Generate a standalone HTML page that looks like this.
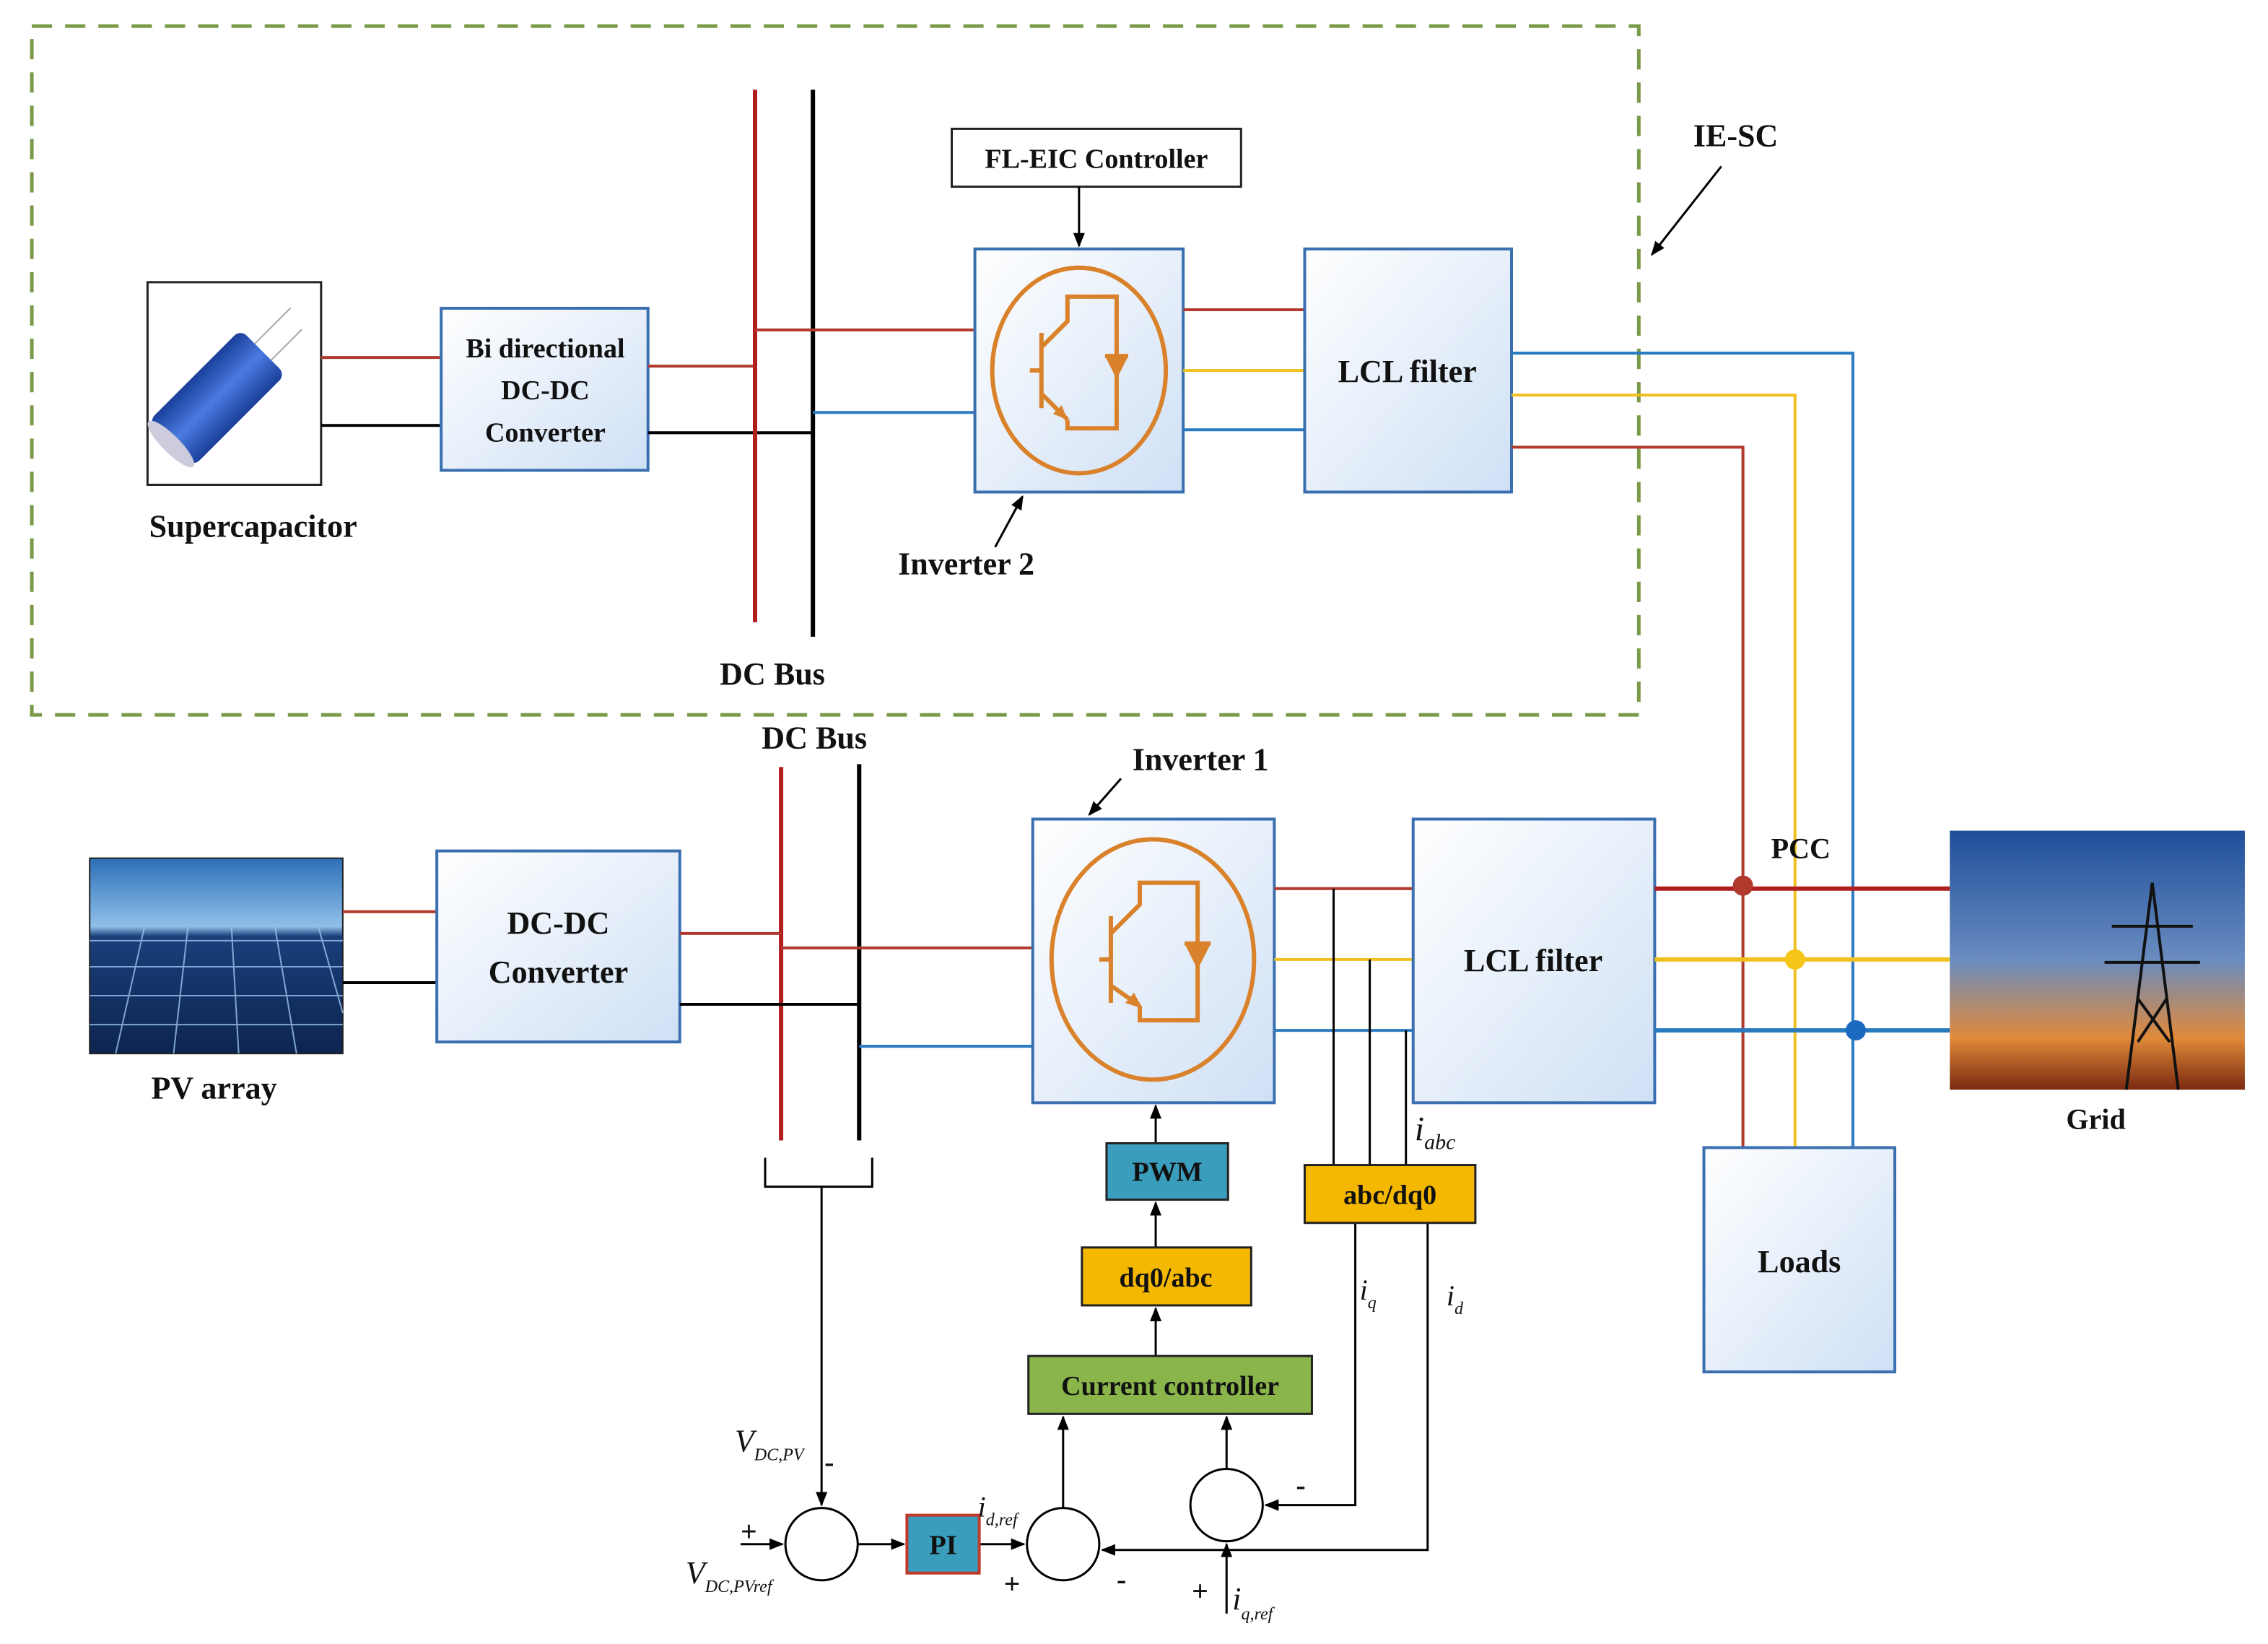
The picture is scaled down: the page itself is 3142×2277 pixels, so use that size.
<!DOCTYPE html>
<html><head><meta charset="utf-8"><style>
html,body{margin:0;padding:0;background:#fff}
svg{display:block}
text{font-family:"Liberation Serif",serif;font-weight:bold;fill:#111}
.it{font-style:italic;font-weight:normal}
</style></head><body>
<svg width="3142" height="2277" viewBox="0 0 1568 1136" preserveAspectRatio="none" xmlns="http://www.w3.org/2000/svg">
<defs>
<linearGradient id="bx" x1="0" y1="0" x2="1" y2="1"><stop offset="0" stop-color="#ffffff"/><stop offset="1" stop-color="#cfe0f5"/></linearGradient>
<linearGradient id="sky" x1="0" y1="0" x2="0" y2="1"><stop offset="0" stop-color="#1f4f9a"/><stop offset="0.5" stop-color="#6a8cc0"/><stop offset="0.8" stop-color="#e08a3a"/><stop offset="1" stop-color="#7a2a10"/></linearGradient>
<linearGradient id="pv" x1="0" y1="0" x2="0" y2="1"><stop offset="0" stop-color="#2d6fb8"/><stop offset="0.35" stop-color="#8fc0e8"/><stop offset="0.4" stop-color="#1a3f7a"/><stop offset="1" stop-color="#0d2450"/></linearGradient>
<linearGradient id="cap" x1="0" y1="0" x2="1" y2="0"><stop offset="0" stop-color="#1a3f9a"/><stop offset="0.5" stop-color="#4a7be0"/><stop offset="1" stop-color="#1a3f9a"/></linearGradient>
<marker id="ar" markerWidth="10" markerHeight="10" refX="9" refY="5" orient="auto" markerUnits="userSpaceOnUse"><path d="M0,1 L10,5 L0,9 z" fill="#000"/></marker>
</defs>
<rect x="22" y="18" width="1111" height="476" fill="none" stroke="#7a9a4a" stroke-width="2.5" stroke-dasharray="14,9"/>
<text x="1200" y="101" font-size="22" text-anchor="middle">IE-SC</text>
<line x1="1190" y1="115" x2="1142" y2="176" stroke="#000" stroke-width="1.5" marker-end="url(#ar)"/>

<rect x="102" y="195" width="120" height="140" fill="#fff" stroke="#222" stroke-width="1.5"/>
<g transform="rotate(45 150 275)"><rect x="128" y="230" width="44" height="90" rx="6" fill="url(#cap)"/><ellipse cx="150" cy="320" rx="22" ry="6" fill="#ccd"/><line x1="142" y1="230" x2="142" y2="195" stroke="#aaa"/><line x1="158" y1="230" x2="158" y2="200" stroke="#aaa"/></g>
<text x="175" y="371" font-size="22" text-anchor="middle">Supercapacitor</text>
<line x1="222" y1="247" x2="305" y2="247" stroke="#b03a2e" stroke-width="2"/>
<line x1="222" y1="294" x2="305" y2="294" stroke="#000" stroke-width="2"/>

<rect x="305" y="213" width="143" height="112" fill="url(#bx)" stroke="#3a6fb0" stroke-width="2"/>
<text x="377" y="247" font-size="19" text-anchor="middle">Bi directional</text>
<text x="377" y="276" font-size="19" text-anchor="middle">DC-DC</text>
<text x="377" y="305" font-size="19" text-anchor="middle">Converter</text>
<line x1="448" y1="253" x2="522" y2="253" stroke="#b03a2e" stroke-width="2"/>
<line x1="448" y1="299" x2="562" y2="299" stroke="#000" stroke-width="2"/>

<line x1="522" y1="62" x2="522" y2="430" stroke="#b01e1e" stroke-width="3"/>
<line x1="562" y1="62" x2="562" y2="440" stroke="#000" stroke-width="3"/>
<text x="534" y="473" font-size="22" text-anchor="middle">DC Bus</text>
<line x1="522" y1="228" x2="674" y2="228" stroke="#b03a2e" stroke-width="2"/>
<line x1="562" y1="285" x2="674" y2="285" stroke="#2a7ac0" stroke-width="2"/>

<rect x="674" y="172" width="144" height="168" fill="url(#bx)" stroke="#3a6fb0" stroke-width="2"/>
<ellipse cx="746" cy="256" rx="60" ry="71" fill="none" stroke="#d9822b" stroke-width="3"/>
<g stroke="#d9822b" stroke-width="3" fill="none"><line x1="720" y1="230" x2="720" y2="282"/><line x1="712" y1="256" x2="720" y2="256"/><polyline points="720,240 738,222 738,205 772,205 772,296 738,296 738,290"/><line x1="720" y1="272" x2="738" y2="290"/></g>
<polygon points="764,246 780,246 772,262" fill="#d9822b"/><line x1="764" y1="246" x2="780" y2="246" stroke="#d9822b" stroke-width="3"/>
<polygon points="738,290 728,286 734,280" fill="#d9822b"/>
<rect x="658" y="89" width="200" height="40" fill="#fff" stroke="#222" stroke-width="1.5"/>
<text x="758" y="116" font-size="19" text-anchor="middle">FL-EIC Controller</text>
<line x1="746" y1="129" x2="746" y2="170" stroke="#000" stroke-width="1.5" marker-end="url(#ar)"/>
<text x="668" y="397" font-size="22" text-anchor="middle">Inverter 2</text>
<line x1="688" y1="378" x2="707" y2="343" stroke="#000" stroke-width="1.5" marker-end="url(#ar)"/>
<line x1="818" y1="214" x2="902" y2="214" stroke="#b03a2e" stroke-width="2"/>
<line x1="818" y1="256" x2="902" y2="256" stroke="#f0c020" stroke-width="2"/>
<line x1="818" y1="297" x2="902" y2="297" stroke="#2a7ac0" stroke-width="2"/>

<rect x="902" y="172" width="143" height="168" fill="url(#bx)" stroke="#3a6fb0" stroke-width="2"/>
<text x="973" y="264" font-size="22" text-anchor="middle">LCL filter</text>
<polyline points="1045,244 1281,244 1281,793" fill="none" stroke="#2a7ac0" stroke-width="2"/>
<polyline points="1045,273 1241,273 1241,793" fill="none" stroke="#f0c020" stroke-width="2"/>
<polyline points="1045,309 1205,309 1205,793" fill="none" stroke="#b03a2e" stroke-width="2"/>

<text x="563" y="517" font-size="22" text-anchor="middle">DC Bus</text>
<line x1="540" y1="530" x2="540" y2="788" stroke="#b01e1e" stroke-width="3"/>
<line x1="594" y1="528" x2="594" y2="788" stroke="#000" stroke-width="3"/>

<rect x="62" y="593" width="175" height="135" fill="url(#pv)" stroke="#222"/>
<g stroke="#9cc4ee" stroke-width="1" opacity="0.8">
<line x1="62" y1="650" x2="237" y2="650"/><line x1="62" y1="668" x2="237" y2="668"/><line x1="62" y1="688" x2="237" y2="688"/><line x1="62" y1="708" x2="237" y2="708"/>
<line x1="100" y1="640" x2="80" y2="728"/><line x1="130" y1="640" x2="120" y2="728"/><line x1="160" y1="640" x2="165" y2="728"/><line x1="190" y1="640" x2="205" y2="728"/><line x1="220" y1="640" x2="237" y2="700"/></g>
<text x="148" y="759" font-size="22" text-anchor="middle">PV array</text>
<line x1="237" y1="630" x2="302" y2="630" stroke="#b03a2e" stroke-width="2"/>
<line x1="237" y1="679" x2="302" y2="679" stroke="#000" stroke-width="2"/>
<rect x="302" y="588" width="168" height="132" fill="url(#bx)" stroke="#3a6fb0" stroke-width="2"/>
<text x="386" y="645" font-size="22" text-anchor="middle">DC-DC</text>
<text x="386" y="679" font-size="22" text-anchor="middle">Converter</text>
<line x1="470" y1="645" x2="540" y2="645" stroke="#b03a2e" stroke-width="2"/>
<line x1="470" y1="694" x2="594" y2="694" stroke="#000" stroke-width="2"/>
<line x1="540" y1="655" x2="714" y2="655" stroke="#b03a2e" stroke-width="2"/>
<line x1="594" y1="723" x2="714" y2="723" stroke="#2a7ac0" stroke-width="2"/>

<rect x="714" y="566" width="167" height="196" fill="url(#bx)" stroke="#3a6fb0" stroke-width="2"/>
<ellipse cx="797" cy="663" rx="70" ry="83" fill="none" stroke="#d9822b" stroke-width="3"/>
<g stroke="#d9822b" stroke-width="3" fill="none"><line x1="768" y1="633" x2="768" y2="693"/><line x1="760" y1="663" x2="768" y2="663"/><polyline points="768,645 788,625 788,610 828,610 828,705 788,705 788,695"/><line x1="768" y1="681" x2="788" y2="695"/></g>
<polygon points="819,652 837,652 828,670" fill="#d9822b"/><line x1="819" y1="652" x2="837" y2="652" stroke="#d9822b" stroke-width="3"/>
<polygon points="790,697 778,693 784,686" fill="#d9822b"/>
<text x="830" y="532" font-size="22" text-anchor="middle">Inverter 1</text>
<line x1="775" y1="538" x2="753" y2="563" stroke="#000" stroke-width="1.5" marker-end="url(#ar)"/>
<line x1="881" y1="614" x2="977" y2="614" stroke="#b03a2e" stroke-width="2"/>
<line x1="881" y1="663" x2="977" y2="663" stroke="#f0c020" stroke-width="2"/>
<line x1="881" y1="712" x2="977" y2="712" stroke="#2a7ac0" stroke-width="2"/>
<rect x="977" y="566" width="167" height="196" fill="url(#bx)" stroke="#3a6fb0" stroke-width="2"/>
<text x="1060" y="671" font-size="22" text-anchor="middle">LCL filter</text>
<line x1="1144" y1="614" x2="1348" y2="614" stroke="#b01e1e" stroke-width="3"/>
<line x1="1144" y1="663" x2="1348" y2="663" stroke="#f0c020" stroke-width="3"/>
<line x1="1144" y1="712" x2="1348" y2="712" stroke="#2a7ac0" stroke-width="3"/>
<circle cx="1205" cy="612" r="7" fill="#b03a2e"/>
<circle cx="1241" cy="663" r="7" fill="#f5c518"/>
<circle cx="1283" cy="712" r="7" fill="#1a6ac0"/>
<text x="1245" y="593" font-size="20" text-anchor="middle">PCC</text>

<rect x="1348" y="574" width="204" height="179" fill="url(#sky)"/>
<g stroke="#111" stroke-width="2" fill="none"><polyline points="1470,753 1488,610 1506,753"/><line x1="1460" y1="640" x2="1516" y2="640"/><line x1="1455" y1="665" x2="1521" y2="665"/><line x1="1478" y1="690" x2="1500" y2="720"/><line x1="1498" y1="690" x2="1478" y2="720"/></g>
<text x="1449" y="780" font-size="20" text-anchor="middle">Grid</text>

<rect x="1178" y="793" width="132" height="155" fill="url(#bx)" stroke="#3a6fb0" stroke-width="2"/>
<text x="1244" y="879" font-size="22" text-anchor="middle">Loads</text>

<g stroke="#000" stroke-width="1.5" fill="none">
<line x1="922" y1="614" x2="922" y2="805"/><line x1="947" y1="663" x2="947" y2="805"/><line x1="972" y1="712" x2="972" y2="805"/>
<polyline points="937,845 937,1040 875,1040" marker-end="url(#ar)"/>
<polyline points="987,845 987,1071 762,1071" marker-end="url(#ar)"/>
<line x1="799" y1="790" x2="799" y2="764" marker-end="url(#ar)"/>
<line x1="799" y1="862" x2="799" y2="831" marker-end="url(#ar)"/>
<line x1="799" y1="937" x2="799" y2="904" marker-end="url(#ar)"/>
<line x1="735" y1="1042" x2="735" y2="979" marker-end="url(#ar)"/>
<line x1="848" y1="1015" x2="848" y2="979" marker-end="url(#ar)"/>
<polyline points="529,800 529,820 603,820 603,800"/>
<line x1="568" y1="820" x2="568" y2="1040" marker-end="url(#ar)"/>
<line x1="593" y1="1067" x2="625" y2="1067" marker-end="url(#ar)"/>
<line x1="677" y1="1067" x2="708" y2="1067" marker-end="url(#ar)"/>
<line x1="512" y1="1067" x2="541" y2="1067" marker-end="url(#ar)"/>
<line x1="848" y1="1115" x2="848" y2="1067" marker-end="url(#ar)"/>
<circle cx="568" cy="1067" r="25"/><circle cx="735" cy="1067" r="25"/><circle cx="848" cy="1040" r="25"/>
</g>
<rect x="902" y="805" width="118" height="40" fill="#f5b800" stroke="#222" stroke-width="1.5"/>
<text x="961" y="832" font-size="19" text-anchor="middle">abc/dq0</text>
<rect x="765" y="790" width="84" height="39" fill="#3a9dbb" stroke="#222" stroke-width="1.5"/>
<text x="807" y="816" font-size="19" text-anchor="middle">PWM</text>
<rect x="748" y="862" width="117" height="40" fill="#f5b800" stroke="#222" stroke-width="1.5"/>
<text x="806" y="889" font-size="19" text-anchor="middle">dq0/abc</text>
<rect x="711" y="937" width="196" height="40" fill="#8ab54a" stroke="#222" stroke-width="1.5"/>
<text x="809" y="964" font-size="19" text-anchor="middle">Current controller</text>
<rect x="627" y="1047" width="50" height="40" fill="#3a9dbb" stroke="#c0392b" stroke-width="2"/>
<text x="652" y="1074" font-size="19" text-anchor="middle">PI</text>

<text x="978" y="788" font-size="24" class="it">i<tspan font-size="15" dy="6">abc</tspan></text>
<text x="940" y="898" font-size="20" class="it">i<tspan font-size="12" dy="6">q</tspan></text>
<text x="1000" y="902" font-size="20" class="it">i<tspan font-size="12" dy="6">d</tspan></text>
<text x="508" y="1003" font-size="22" class="it">V<tspan font-size="12" dy="6">DC,PV</tspan></text>
<text x="570" y="1017" font-size="20" font-weight="bold">-</text>
<text x="512" y="1065" font-size="20">+</text>
<text x="474" y="1094" font-size="22" class="it">V<tspan font-size="12" dy="6">DC,PVref</tspan></text>
<text x="676" y="1048" font-size="20" class="it">i<tspan font-size="12" dy="6">d,ref</tspan></text>
<text x="694" y="1101" font-size="20">+</text>
<text x="772" y="1098" font-size="20">-</text>
<text x="896" y="1033" font-size="20">-</text>
<text x="824" y="1106" font-size="20">+</text>
<text x="852" y="1112" font-size="22" class="it">i<tspan font-size="12" dy="7">q,ref</tspan></text>
</svg>
</body></html>
